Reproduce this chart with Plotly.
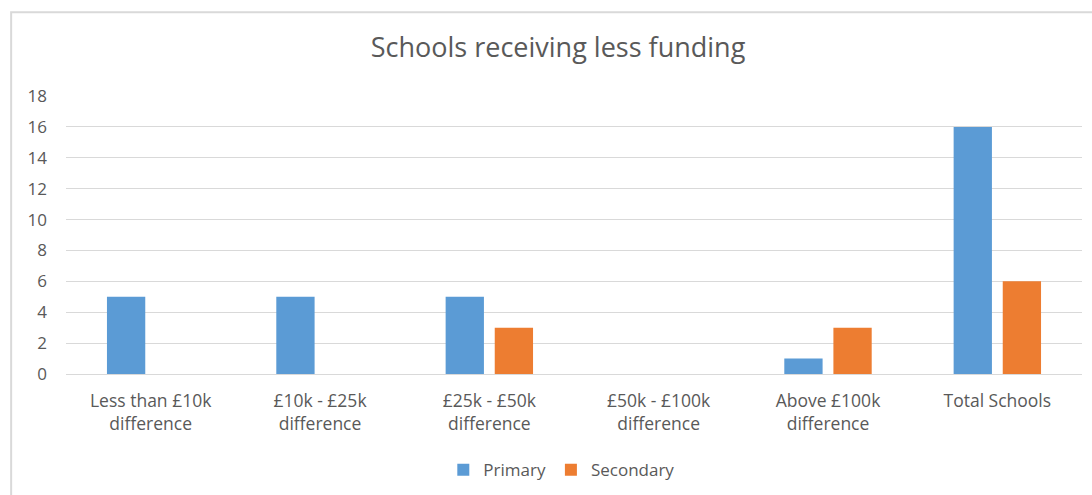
import plotly.graph_objects as go

categories = ["Less than £10k<br>difference", "£10k - £25k<br>difference", "£25k - £50k<br>difference",
              "£50k - £100k<br>difference", "Above £100k<br>difference", "Total Schools"]
primary = [5, 5, 5, 0, 1, 16]
secondary = [0, 0, 3, 0, 3, 6]
y_ticks = [0, 2, 4, 6, 8, 10, 12, 14, 16, 18]

FONT = "Open Sans, Lato, sans-serif"
GREY = "#595959"

fig = go.Figure()
fig.add_trace(go.Bar(name="Primary", x=categories, y=primary, marker=dict(color="#5B9BD5", line=dict(width=0))))
fig.add_trace(go.Bar(name="Secondary", x=categories, y=secondary, marker=dict(color="#ED7D31", line=dict(width=0))))

fig.update_layout(
    width=1092, height=495,
    barmode="group", bargap=0.42, bargroupgap=0.22,
    paper_bgcolor="white", plot_bgcolor="white",
    margin=dict(l=66, r=10, t=96, b=121, autoexpand=False),
    title=dict(text="Schools receiving less funding", x=0.511, xanchor="center", y=0.903, yanchor="middle",
               font=dict(family=FONT, size=27, color=GREY)),
    font=dict(family=FONT, size=17, color=GREY),
    showlegend=True,
    legend=dict(orientation="h", x=0.488, xanchor="center", y=0.05, yanchor="middle", yref="container",
                font=dict(family=FONT, size=17, color=GREY), itemwidth=30, traceorder="normal"),
    xaxis=dict(showgrid=False, showline=True, linecolor="#D9D9D9", linewidth=1, ticks="", automargin=False,
               tickfont=dict(family=FONT, size=17.5, color=GREY), fixedrange=True, ticklabelstandoff=11),
    yaxis=dict(range=[0, 18], tickvals=y_ticks, showgrid=True, gridcolor="#D9D9D9", gridwidth=1,
               zeroline=False, showline=False, ticks="", ticklabelstandoff=18, automargin=False,
               tickfont=dict(family=FONT, size=17, color=GREY)),
    shapes=[dict(type="rect", xref="paper", yref="paper", x0=-0.054, x1=1.02, y0=-0.5, y1=1.301,
                 line=dict(color="#D9D9D9", width=2), fillcolor="rgba(0,0,0,0)", layer="below")],
)

fig.write_html("out.html")
